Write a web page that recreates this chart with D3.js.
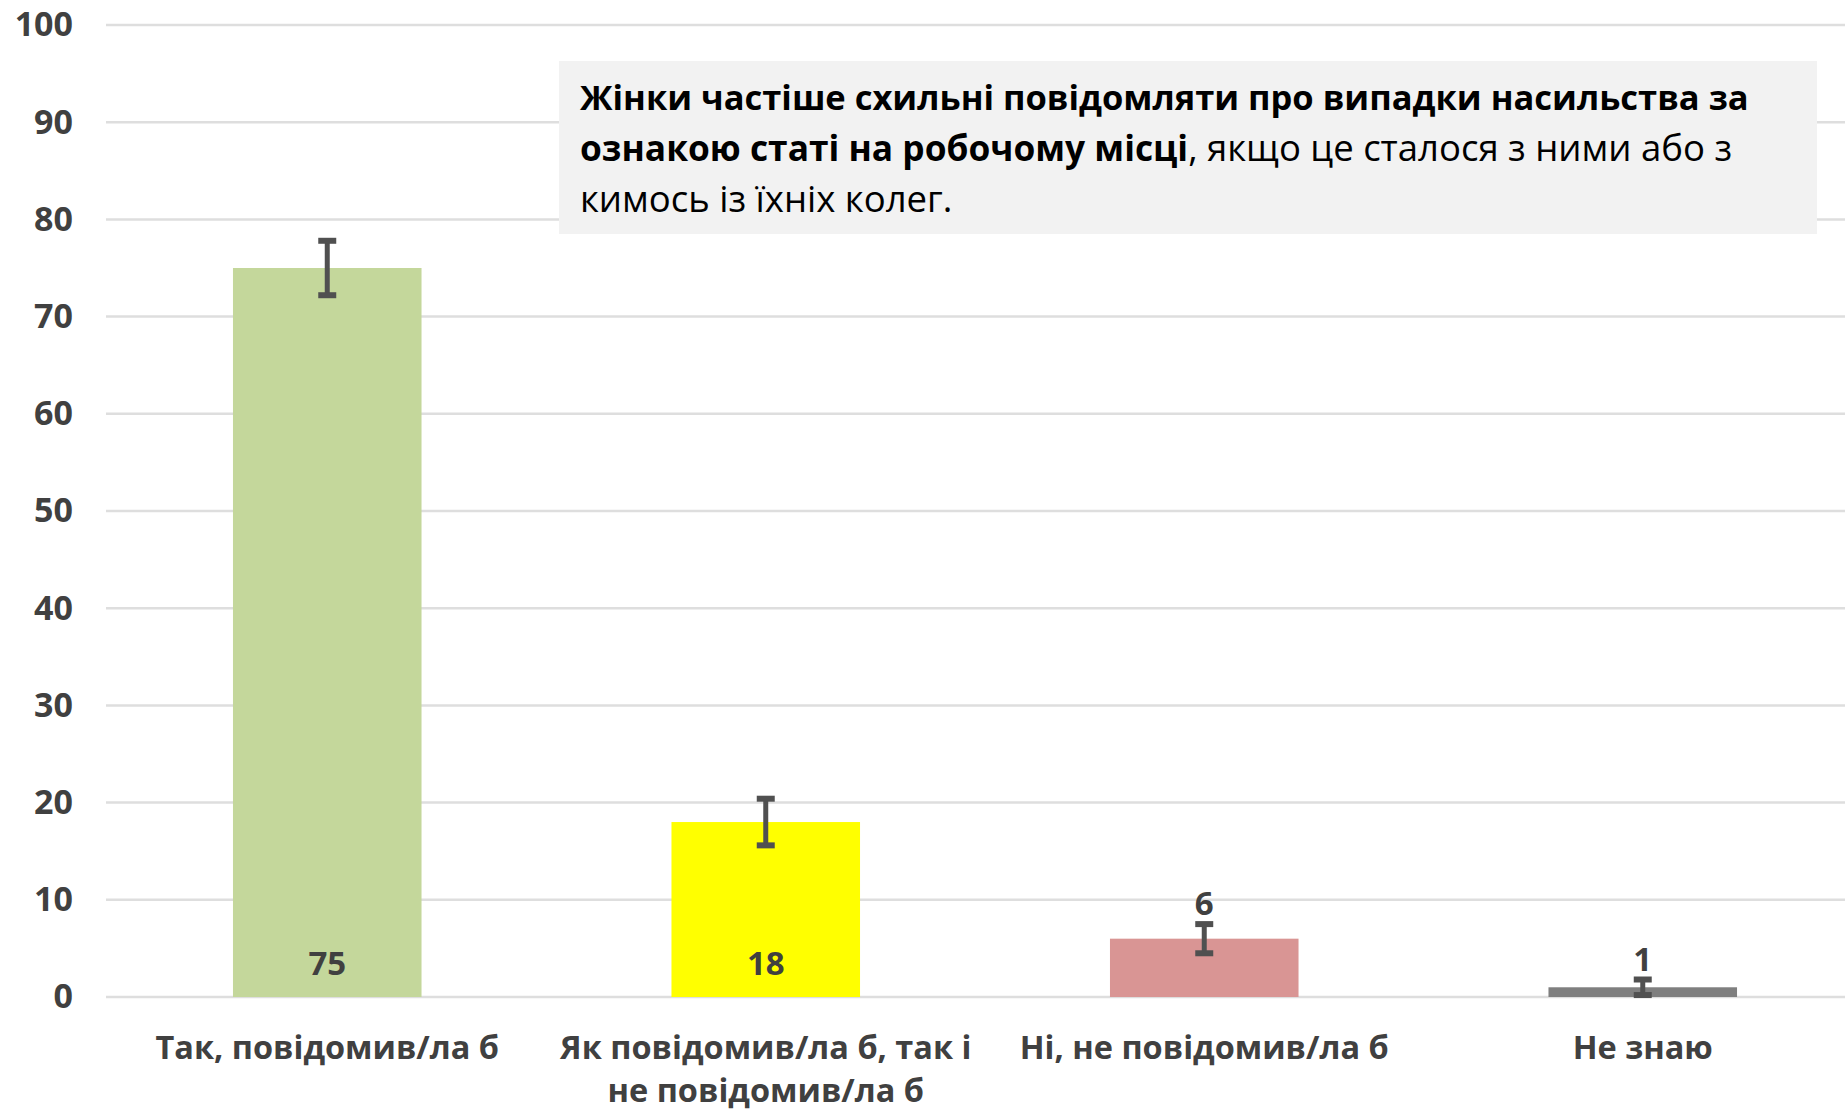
<!DOCTYPE html>
<html>
<head>
<meta charset="utf-8">
<script src="https://cdn.jsdelivr.net/npm/d3@7"></script>
<style>
  html, body { margin: 0; padding: 0; background: #fff; }
  text { font-family: "Open Sans", "Noto Sans", sans-serif; }
</style>
</head>
<body>
<div id="chart"></div>
<script>
// chart data
const categories = ['Так, повідомив/ла б', 'Як повідомив/ла б, так і не повідомив/ла б', 'Ні, не повідомив/ла б', 'Не знаю'];
const categoryLines = [['Так, повідомив/ла б'], ['Як повідомив/ла б, так і', 'не повідомив/ла б'], ['Ні, не повідомив/ла б'], ['Не знаю']];
const values = [75, 18, 6, 1];
const errors = [2.8, 2.4, 1.5, 0.8];
const labelInside = [true, true, false, false];
const colors = ['#c4d79b', '#ffff00', '#d99594', '#7f7f7f'];
const yTicks = [0, 10, 20, 30, 40, 50, 60, 70, 80, 90, 100];
const noteBold = ['Жінки частіше схильні повідомляти про випадки насильства за', 'ознакою статі на робочому місці'];
const noteRest = ['', ', якщо це сталося з ними або з', 'кимось із їхніх колег.'];

const W = 1845, H = 1113;
const margin = { top: 25, right: -17, bottom: 116, left: 108 };

const svg = d3.select('#chart').append('svg')
    .attr('width', W).attr('height', H);

const x = d3.scaleBand()
    .domain(categories)
    .range([margin.left, W - margin.right])
    .paddingInner(0.57)
    .paddingOuter(0.285);

const y = d3.scaleLinear()
    .domain([0, 100])
    .range([H - margin.bottom, margin.top]);

// gridlines
svg.append('g').selectAll('line').data(yTicks).enter()
    .append('line')
    .attr('x1', margin.left - 2).attr('x2', W)
    .attr('y1', d => y(d)).attr('y2', d => y(d))
    .attr('stroke', '#dedede').attr('stroke-width', 2.5);

// y axis labels
const yAxis = svg.append('g')
    .attr('transform', `translate(${margin.left - 35},0)`)
    .call(d3.axisLeft(y).tickValues(yTicks).tickSize(0).tickPadding(0));
yAxis.select('.domain').remove();
yAxis.selectAll('text')
    .style('font-family', '"Open Sans", sans-serif')
    .style('font-size', '34px').style('font-weight', 700)
    .attr('fill', '#404040');

// bars
svg.append('g').selectAll('rect').data(values).enter()
    .append('rect')
    .attr('x', (d, i) => x(categories[i]))
    .attr('width', x.bandwidth())
    .attr('y', d => y(d))
    .attr('height', d => y(0) - y(d))
    .attr('fill', (d, i) => colors[i]);

// error bars
const eb = svg.append('g').selectAll('g').data(values).enter()
    .append('g')
    .attr('transform', (d, i) => `translate(${x(categories[i]) + x.bandwidth() / 2},0)`);
eb.append('line')
    .attr('y1', (d, i) => y(d + errors[i])).attr('y2', (d, i) => y(d - errors[i]))
    .attr('stroke', '#505050').attr('stroke-width', 5);
eb.append('line')
    .attr('x1', -9).attr('x2', 9)
    .attr('y1', (d, i) => y(d + errors[i])).attr('y2', (d, i) => y(d + errors[i]))
    .attr('stroke', '#505050').attr('stroke-width', 6);
eb.append('line')
    .attr('x1', -9).attr('x2', 9)
    .attr('y1', (d, i) => y(d - errors[i])).attr('y2', (d, i) => y(d - errors[i]))
    .attr('stroke', '#505050').attr('stroke-width', 6);

// value labels
eb.append('text')
    .attr('text-anchor', 'middle')
    .attr('y', (d, i) => labelInside[i] ? y(0) - 22 : y(d + errors[i]) - 9)
    .attr('fill', '#404040')
    .style('font-size', '33px').style('font-weight', 700)
    .text(d => d);

// category labels
const xl = svg.append('g').selectAll('text').data(categoryLines).enter()
    .append('text')
    .attr('text-anchor', 'middle')
    .attr('fill', '#404040')
    .style('font-size', '32.5px').style('font-weight', 700)
    .attr('x', (d, i) => x(categories[i]) + x.bandwidth() / 2)
    .attr('y', 1059);
xl.selectAll('tspan').data(d => d).enter()
    .append('tspan')
    .attr('x', function () { return this.parentNode.getAttribute('x'); })
    .attr('dy', (d, j) => j === 0 ? 0 : 43)
    .text(d => d);

// note box
svg.append('rect')
    .attr('x', 559).attr('y', 61)
    .attr('width', 1258).attr('height', 173)
    .attr('fill', '#f2f2f2');

const note = svg.append('g').attr('fill', '#000');
noteRest.forEach((rest, i) => {
    const t = note.append('text').attr('x', 580).attr('y', 110 + i * 51);
    if (noteBold[i]) t.append('tspan').style('font-weight', 700)
        .style('font-size', i === 0 ? '34.5px' : '35.3px').text(noteBold[i]);
    if (rest) t.append('tspan').style('font-weight', 400)
        .style('font-size', '36.5px').text(rest);
});
</script>
</body>
</html>
